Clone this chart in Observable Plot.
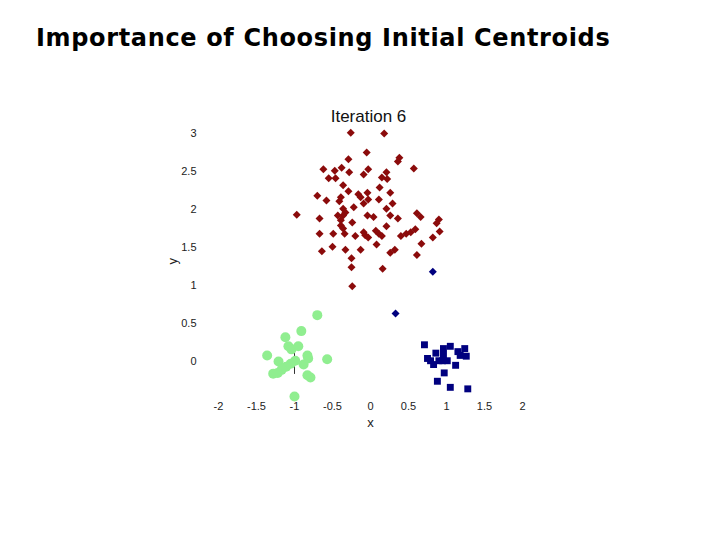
<!DOCTYPE html>
<html>
<head>
<meta charset="utf-8">
<script src="https://cdn.jsdelivr.net/npm/d3@7"></script>
<script src="https://cdn.jsdelivr.net/npm/@observablehq/plot@0.6"></script>
<style>
  html, body { margin: 0; padding: 0; background: #fff; width: 720px; height: 540px; overflow: hidden; }
  #wrap { position: relative; width: 720px; height: 540px; }
  #title { position: absolute; left: 36px; top: 24px; font-family: "DejaVu Sans", sans-serif; font-weight: bold; font-size: 24px; letter-spacing: 0.65px; color: #000; white-space: nowrap; z-index: 2; }
  #chart { position: absolute; left: 0; top: 0; }
</style>
</head>
<body>
<div id="wrap">
  <div id="title">Importance of Choosing Initial Centroids</div>
  <div id="chart"></div>
</div>
<script>
const chartTitle = "Iteration 6";
const xLabel = "x";
const yLabel = "y";
const xTicks = [-2, -1.5, -1, -0.5, 0, 0.5, 1, 1.5, 2];
const yTicks = [0, 0.5, 1, 1.5, 2, 2.5, 3];

// Cluster 1 (dark red diamonds)
const redX = [-0.26, 0.18, -0.05, -0.29, 0.38, 0.36, -0.62, -0.47, -0.38, -0.28, -0.03, -0.09, 0.57, -0.55, -0.46, -0.36, 0.15, 0.21, 0.22,
  -0.70, -0.58, -0.39, -0.41, -0.29, -0.16, -0.13, -0.04, -0.03, 0.12, 0.26, 0.11, 0.29, -0.97, -0.67, -0.36, -0.33, -0.36, -0.22, -0.09,
  -0.43, -0.04, 0.04, 0.21, 0.26, 0.36, 0.61, 0.66, 0.90, 0.87, -0.24, -0.39, -0.36, -0.67, -0.49, -0.34, -0.20, -0.07, -0.03, 0.11, 0.15,
  0.21, 0.40, 0.47, 0.53, 0.59, 0.82, 0.91, 0.67, -0.64, -0.50, -0.33, -0.13, 0.08, 0.26, 0.32, 0.61, -0.25, -0.25, 0.16, -0.24, -0.39, 0.07, -0.09];
const redY = [3.01, 3.00, 2.75, 2.66, 2.68, 2.63, 2.53, 2.51, 2.55, 2.49, 2.53, 2.46, 2.54, 2.41, 2.41, 2.32, 2.42, 2.49, 2.40,
  2.18, 2.12, 2.16, 2.11, 2.24, 2.20, 2.16, 2.22, 2.13, 2.29, 2.22, 2.13, 2.08, 1.93, 1.88, 2.01, 1.96, 1.92, 2.03, 2.08,
  1.92, 1.92, 1.90, 2.01, 1.92, 1.88, 1.95, 1.90, 1.87, 1.82, 1.83, 1.79, 1.75, 1.68, 1.68, 1.68, 1.65, 1.66, 1.63, 1.68, 1.65,
  1.78, 1.65, 1.68, 1.70, 1.74, 1.63, 1.71, 1.55, 1.45, 1.51, 1.47, 1.47, 1.54, 1.43, 1.47, 1.40, 1.36, 1.24, 1.22, 0.99, 1.86, 1.72, 1.70];

// Cluster 2 (navy): squares plus two diamonds
const blueX = [0.71, 0.86, 0.96, 1.05, 1.15, 1.24, 1.18, 1.26, 0.75, 0.79, 0.83, 0.96, 0.95, 1.01, 0.90, 1.12, 0.97, 0.88, 1.05, 1.28];
const blueY = [0.22, 0.11, 0.17, 0.20, 0.13, 0.17, 0.08, 0.07, 0.04, 0.01, -0.04, 0.08, 0.01, 0.01, 0.01, -0.05, -0.15, -0.26, -0.34, -0.36];
const blueDiamondX = [0.82, 0.33];
const blueDiamondY = [1.18, 0.63];

// Cluster 3 (light green circles)
const greenX = [-0.70, -0.91, -1.12, -1.08, -1.04, -0.95, -1.36, -0.83, -0.82, -0.57, -1.21, -0.88, -0.99, -1.05, -1.11, -1.17, -1.22, -1.28, -0.83, -0.79, -1.00];
const greenY = [0.61, 0.40, 0.32, 0.20, 0.16, 0.20, 0.08, 0.08, 0.04, 0.03, 0.00, -0.04, 0.01, -0.03, -0.07, -0.11, -0.15, -0.16, -0.18, -0.21, -0.46];

// centroid marker line
const lineX = [-1];
const lineY1 = [-0.17];
const lineY2 = [0.21];

const red = redX.map((x, i) => ({x, y: redY[i]}));
const blue = blueX.map((x, i) => ({x, y: blueY[i]}));
const blueD = blueDiamondX.map((x, i) => ({x, y: blueDiamondY[i]}));
const green = greenX.map((x, i) => ({x, y: greenY[i]}));
const rule = lineX.map((x, i) => ({x, y1: lineY1[i], y2: lineY2[i]}));

const fmt = d => String(d);

const plot = Plot.plot({
  width: 720,
  height: 540,
  marginLeft: 218,
  marginRight: 198,
  marginTop: 133,
  marginBottom: 141,
  style: {fontFamily: "'Liberation Sans', Arial, sans-serif", fontSize: "11px", background: "transparent"},
  x: {domain: [-2, 2], label: null},
  y: {domain: [-0.5, 3], label: null},
  marks: [
    Plot.axisX({ticks: xTicks, tickSize: 0, tickPadding: 3, tickFormat: fmt, label: null, fill: "#222"}),
    Plot.axisY({ticks: yTicks, tickSize: 0, tickPadding: 22, tickFormat: fmt, label: null, fill: "#222"}),
    Plot.text([xLabel], {frameAnchor: "bottom", dy: 27, text: d => d, fontSize: 13, fill: "#222"}),
    Plot.text([yLabel], {frameAnchor: "left", dx: -46, dy: -2, rotate: -90, text: d => d, fontSize: 13, fill: "#222"}),
    Plot.text([chartTitle], {frameAnchor: "top", dy: -24, dx: -2, text: d => d, fontSize: 17, fill: "#111"}),
    Plot.ruleX(rule, {x: "x", y1: "y1", y2: "y2", stroke: "#333", strokeWidth: 1}),
    Plot.dot(green, {x: "x", y: "y", r: 5, fill: "#90EE90", stroke: "none"}),
    Plot.dot(blue, {x: "x", y: "y", symbol: "square", r: 3.9, fill: "#00007f", stroke: "none"}),
    Plot.dot(blueD, {x: "x", y: "y", symbol: "diamond2", r: 3.6, fill: "#00007f", stroke: "none"}),
    Plot.dot(red, {x: "x", y: "y", symbol: "diamond2", r: 3.6, fill: "#8b0b0b", stroke: "none"})
  ]
});
document.getElementById("chart").appendChild(plot);
</script>
</body>
</html>
